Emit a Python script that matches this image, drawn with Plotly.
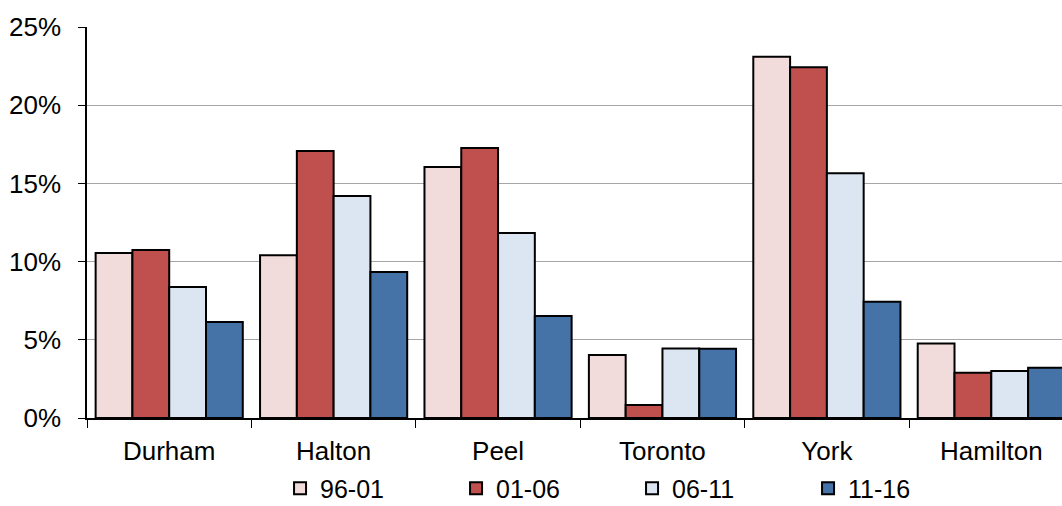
import plotly.graph_objects as go

regions = ["Durham", "Halton", "Peel", "Toronto", "York", "Hamilton"]
series_names = ["96-01", "01-06", "06-11", "11-16"]
v_96_01 = [10.55, 10.4, 16.05, 4.03, 23.1, 4.77]
v_01_06 = [10.74, 17.07, 17.26, 0.83, 22.42, 2.9]
v_06_11 = [8.37, 14.2, 11.83, 4.45, 15.65, 3.0]
v_11_16 = [6.14, 9.33, 6.52, 4.42, 7.44, 3.22]
colors = ["#F2DCDB", "#C0504D", "#DCE6F2", "#4572A7"]

fig = go.Figure()
for name, vals, col in zip(series_names, [v_96_01, v_01_06, v_06_11, v_11_16], colors):
    fig.add_trace(go.Bar(
        x=regions, y=vals, name=name,
        marker=dict(color=col, line=dict(color="#000000", width=2)),
    ))

font = "Liberation Sans, Arial, sans-serif"
fig.update_layout(
    width=1062, height=506,
    margin=dict(l=87, r=0, t=27, b=88, autoexpand=False),
    plot_bgcolor="white", paper_bgcolor="white",
    barmode="group", bargap=0.105, bargroupgap=0,
    font=dict(family=font, size=26, color="#000000"),
    showlegend=True,
    legend=dict(
        orientation="h", x=0.198, xanchor="left", y=-0.18, yanchor="middle",
        font=dict(size=25, family=font), entrywidth=131, entrywidthmode="pixels",
        itemwidth=30, traceorder="normal",
    ),
    xaxis=dict(
        range=[-0.5, 5.43], showline=True, linecolor="#000000", linewidth=1.5,
        ticks="outside", tickson="boundaries", ticklen=8, tickcolor="#000000",
        tickfont=dict(size=26, family=font), showgrid=False, fixedrange=True,
        ticklabelstandoff=9,
    ),
    yaxis=dict(
        range=[0, 25], dtick=5, ticksuffix="%", showline=True, linecolor="#000000",
        linewidth=1.5, ticks="outside", ticklen=7, tickcolor="#000000",
        showgrid=True, gridcolor="#A6A6A6", gridwidth=1.2, zeroline=False,
        tickfont=dict(size=26, family=font), ticklabelstandoff=12,
    ),
)
fig.write_html("out.html", config={"displayModeBar": False},
               post_script="document.body.style.margin='0';")
